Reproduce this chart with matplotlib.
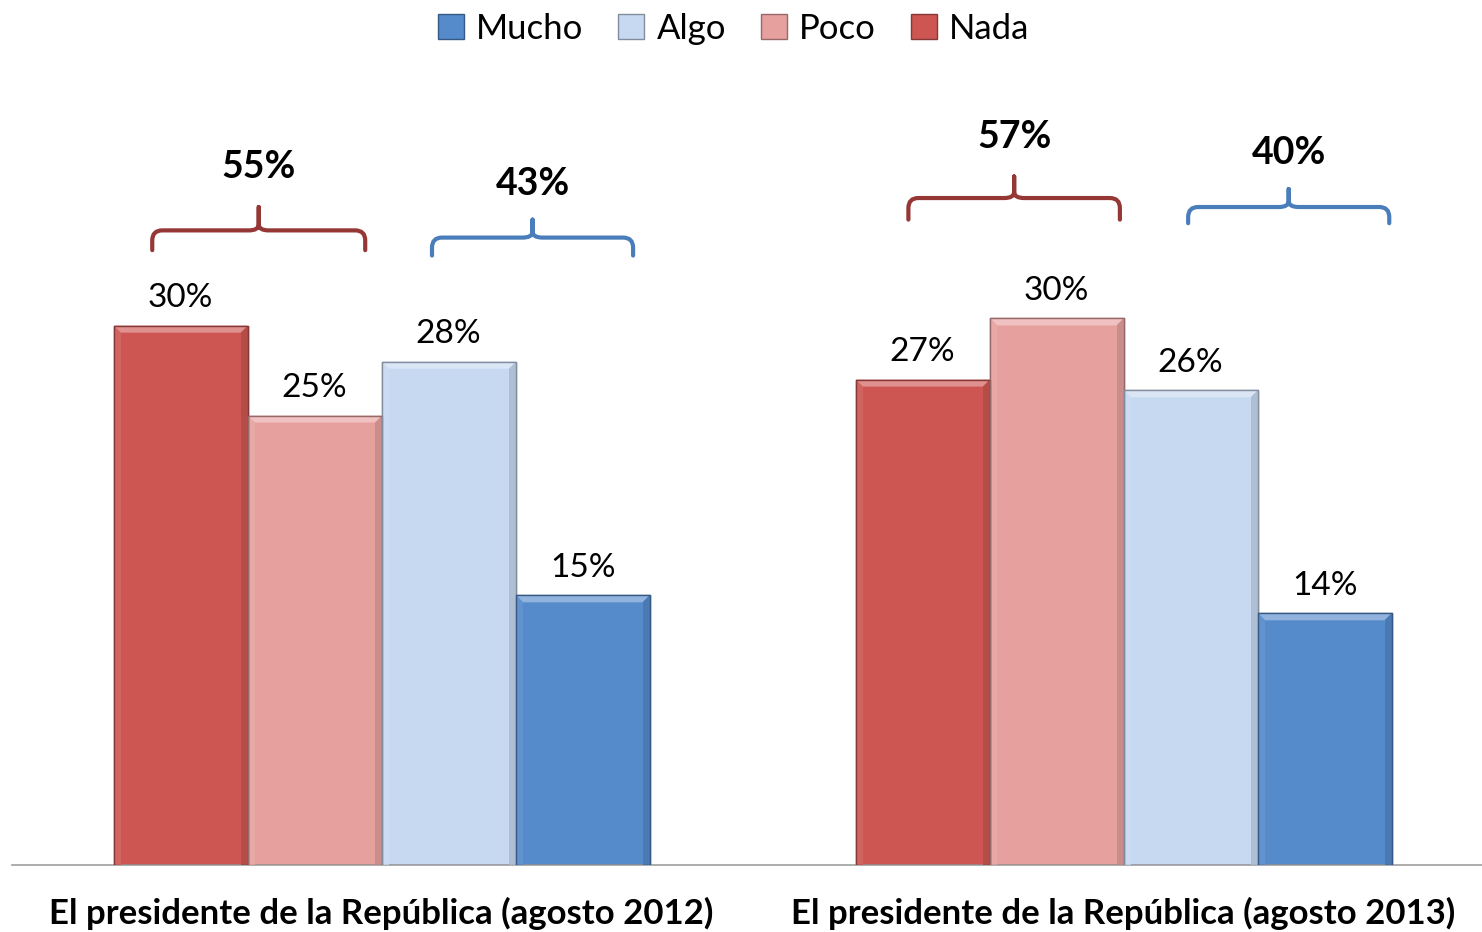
import matplotlib.pyplot as plt
import matplotlib.colors as mcolors
from matplotlib.path import Path
from matplotlib.patches import PathPatch, Polygon, Patch
import numpy as np

# data
groups = ['El presidente de la República (agosto 2012)',
          'El presidente de la República (agosto 2013)']
series = ['Nada', 'Poco', 'Algo', 'Mucho']
legend_order = ['Mucho', 'Algo', 'Poco', 'Nada']
nada = [30, 27]
poco = [25, 30.4]
algo = [28, 26.4]
mucho = [15, 14]

colors = {'Nada': '#CD5652', 'Poco': '#E6A09E', 'Algo': '#C6D9F1', 'Mucho': '#558ACB'}
brace_red = '#953735'
brace_blue = '#4A7EBB'

plt.rcParams['font.family'] = ['Lato', 'DejaVu Sans']

fig = plt.figure(figsize=(14.82, 9.32), dpi=100)
ax = fig.add_axes([0.0081, 0.0719, 0.9919, 0.868])
ax.set_xlim(-0.498, 1.483)
ax.set_ylim(0, 45)

w = 0.1806
offsets = [-1.5 * w, -0.5 * w, 0.5 * w, 1.5 * w]
x = np.arange(len(groups))
values = [nada, poco, algo, mucho]

# bevel sizes in data units (approx 7 px)
bx = 7 / 742
by = 7 / 17.97


def shade(c, f):
    r, g, b = mcolors.to_rgb(c)
    if f > 0:
        return (r + (1 - r) * f, g + (1 - g) * f, b + (1 - b) * f)
    return (r * (1 + f), g * (1 + f), b * (1 + f))


for name, vals, off in zip(series, values, offsets):
    col = colors[name]
    bars = ax.bar(x + off, vals, width=w, color=col, edgecolor=shade(col, -0.35),
                  linewidth=1.0, zorder=2)
    for rect, v in zip(bars, vals):
        x0 = rect.get_x()
        x1 = x0 + rect.get_width()
        # top bevel
        ax.add_patch(Polygon([(x0, v), (x1, v), (x1 - bx, v - by), (x0 + bx, v - by)],
                             closed=True, facecolor=shade(col, 0.35), edgecolor='none', zorder=3))
        # right bevel
        ax.add_patch(Polygon([(x1, v), (x1, 0), (x1 - bx, 0), (x1 - bx, v - by)],
                             closed=True, facecolor=shade(col, -0.12), edgecolor='none', zorder=3))
        # left bevel
        ax.add_patch(Polygon([(x0, v), (x0, 0), (x0 + bx, 0), (x0 + bx, v - by)],
                             closed=True, facecolor=shade(col, 0.08), edgecolor='none', zorder=3))
        ax.plot([x0, x1, x1, x0, x0], [0, 0, v, v, 0], color=shade(col, -0.35), lw=1.0, zorder=4)
        ax.annotate(f'{v:.0f}%', (rect.get_x() + rect.get_width() / 2, v),
                    xytext=(0, 9), textcoords='offset points', ha='center', va='bottom',
                    fontsize=24, color='black')

# brackets: (group, x-start offset, x-end offset, bottom, top, tick, label y, color, parts)
braces = [
    (0, -0.309, -0.022, 34.2, 35.3, 36.6, 38.8, brace_red, (nada, poco)),
    (0, 0.068, 0.339, 33.9, 34.9, 35.9, 37.9, brace_blue, (algo, mucho)),
    (1, -0.290, -0.005, 35.9, 37.1, 38.3, 40.5, brace_red, (nada, poco)),
    (1, 0.087, 0.358, 35.7, 36.6, 37.6, 39.6, brace_blue, (algo, mucho)),
]
dx = 10 / 742
dy = 10 / 17.97
for g, a, b, yb, yt, ytk, yl, col, parts in braces:
    x0 = x[g] + a
    x1 = x[g] + b
    xm = (x0 + x1) / 2
    verts = [(x0, yb), (x0, yt - dy), (x0, yt), (x0 + dx, yt),
             (xm - dx, yt), (xm, yt), (xm, yt + dy * 0.6), (xm, ytk),
             (xm, yt + dy * 0.6), (xm, yt), (xm + dx, yt),
             (x1 - dx, yt), (x1, yt), (x1, yt - dy), (x1, yb)]
    codes = [Path.MOVETO, Path.LINETO, Path.CURVE3, Path.CURVE3,
             Path.LINETO, Path.CURVE3, Path.CURVE3, Path.LINETO,
             Path.LINETO, Path.CURVE3, Path.CURVE3,
             Path.LINETO, Path.CURVE3, Path.CURVE3, Path.LINETO]
    ax.add_patch(PathPatch(Path(verts, codes), facecolor='none', edgecolor=col,
                           lw=3, capstyle='round', joinstyle='round', clip_on=False, zorder=5))
    total = parts[0][g] + parts[1][g]
    ax.text(xm, yl, f'{total:.0f}%', ha='center', va='center', fontsize=27,
            fontweight='bold', color='black')

# category labels
for xi, lab in zip(x, groups):
    ax.text(xi, -0.060, lab, transform=ax.get_xaxis_transform(), ha='center', va='center',
            fontsize=25, fontweight='bold', color='black')

for s in ['top', 'right', 'left']:
    ax.spines[s].set_visible(False)
ax.spines['bottom'].set_color('#A0A0A0')
ax.spines['bottom'].set_linewidth(1.2)
ax.set_xticks([])
ax.set_yticks([])

handles = [Patch(facecolor=colors[n], edgecolor=shade(colors[n], -0.35), label=n) for n in legend_order]
fig.legend(handles=handles, loc='center', bbox_to_anchor=(0.495, 0.969), ncol=4, frameon=False,
           fontsize=25, handlelength=0.75, handleheight=0.75, handletextpad=0.35, columnspacing=1.0)

fig.savefig('out.png', dpi=100)
